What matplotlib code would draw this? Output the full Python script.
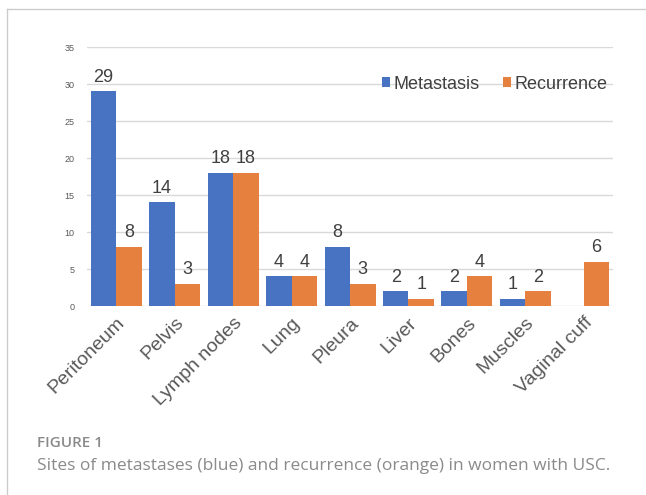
import numpy as np
import matplotlib.pyplot as plt
from matplotlib.lines import Line2D

sites = ['Peritoneum', 'Pelvis', 'Lymph nodes', 'Lung', 'Pleura', 'Liver',
         'Bones', 'Muscles', 'Vaginal cuff']
metastasis = [29, 14, 18, 4, 8, 2, 2, 1, np.nan]
recurrence = [8, 3, 18, 4, 3, 1, 4, 2, 6]

plt.rcParams['font.family'] = ['Liberation Sans', 'DejaVu Sans']

fig = plt.figure(figsize=(6.46, 4.95), dpi=100)
ax = fig.add_axes([0.1347, 0.3818, 0.8143, 0.5232])

x = np.arange(len(sites))
w = 0.436
b1 = ax.bar(x - w / 2, metastasis, w, color='#4872C2', label='Metastasis', zorder=3)
b2 = ax.bar(x + w / 2, recurrence, w, color='#E5803F', label='Recurrence', zorder=3)

lab1 = ['' if np.isnan(v) else '%d' % v for v in metastasis]
ax.bar_label(b1, labels=lab1, padding=4, fontsize=13, color='#404040')
ax.bar_label(b2, padding=4, fontsize=13, color='#404040')

ax.set_xlim(-0.5, len(sites) - 0.5)
ax.set_ylim(0, 35)
ax.set_yticks(range(0, 36, 5))
ax.yaxis.grid(True, color='#D9D9D9', lw=1, zorder=0)
for s in ax.spines.values():
    s.set_visible(False)
ax.tick_params(axis='both', length=0)
ax.tick_params(axis='y', labelsize=6.5, labelcolor='#595959', pad=9)
ax.set_xticks(x)
ax.set_xticklabels(sites, rotation=45, ha='right', rotation_mode='anchor',
                   fontsize=14, color='#595959')
ax.tick_params(axis='x', pad=6)

ax.legend(loc='center right', bbox_to_anchor=(0.99, 0.857), frameon=False,
          fontsize=13, handlelength=0.45, handleheight=0.45, handletextpad=0.2,
          columnspacing=1.3, ncol=2, borderpad=0, borderaxespad=0,
          labelcolor='#404040')

# frame around the panel
fig.add_artist(Line2D([0.0108, 0.0108], [0, 0.982], color='#CCCCCC', lw=1))
fig.add_artist(Line2D([0.0108, 1.0], [0.982, 0.982], color='#CCCCCC', lw=1))

fig.text(0.057, 0.097, 'FIGURE 1', fontsize=11, fontweight='semibold',
         family='Open Sans', color='#8A8A8A', va='baseline')
fig.text(0.057, 0.05, 'Sites of metastases (blue) and recurrence (orange) in women with USC.',
         fontsize=12.5, family='Open Sans', color='#8A8A8A', va='baseline')

fig.savefig('out.png', dpi=100)
